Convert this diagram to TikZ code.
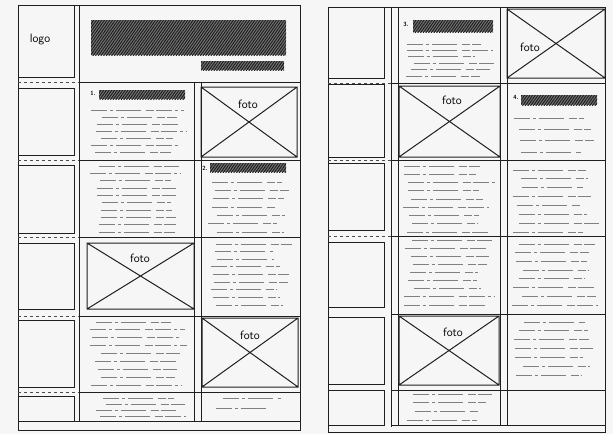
\documentclass[tikz,border=0pt]{standalone}
\usetikzlibrary{patterns.meta}
\begin{document}
\begin{tikzpicture}[x=1pt,y=-1pt,
 frame/.style={draw=black!88,line width=1pt},
 thinline/.style={draw=black!70,line width=0.7pt},
 hatch/.style={fill=black!55,postaction={pattern={Lines[angle=55,distance=2.2pt,line width=0.9pt]},pattern color=black!90}},
 fotoframe/.style={draw=black!88,line width=1pt},
 lbl/.style={font=\sffamily\fontsize{12}{12}\selectfont,inner sep=0pt},
 num/.style={font=\sffamily\bfseries\fontsize{6}{6}\selectfont,inner sep=0pt},
 tl/.style={draw=black!50,line width=0.9pt,dash pattern=on 16pt off 3pt on 3pt off 3pt on 25pt off 5pt on 8pt off 2pt}]
\pgfmathsetseed{3}
\newcommand\fotoX[7]{%
 \draw[fotoframe] (#2,#3) rectangle (#4,#5) (#2,#3) -- (#4,#5) (#2,#5) -- (#4,#3);
 \node[lbl] (#1) at (#6,#7) {foto};}
\newcommand\txt[5]{%
 \foreach \i in {1,...,#5}{
   \pgfmathsetmacro\yy{#3+(\i-1)*(#4-#3)/max(#5-1,1)}
   \pgfmathsetmacro\xa{#1+rnd*12}
   \pgfmathsetmacro\xb{#2-rnd*20}
   \draw[tl] (\xa,\yy) -- (\xb,\yy);
 }}
\fill[gray!7] (0,0) rectangle (613,434);
\useasboundingbox (0,0) rectangle (613,434);

% ---------------- left page ----------------
\draw[frame] (18,5) rectangle (300,430);
\foreach \a/\b in {5/77,88/155,165/233,243/309,320/387,396/421}
  \draw[frame] (18,\a) rectangle (74,\b);
\draw[frame] (79,5) -- (79,421);
\foreach \y in {82,160,237,316,392}
  \draw[frame] (79,\y) -- (300,\y);
\foreach \y in {82,160,237,316,392}
  \draw[thinline,dashed] (18,\y) -- (79,\y);
\draw[frame] (18,421) -- (300,421);
\draw[frame] (194,82) -- (194,421);
\draw[frame] (201,82) -- (201,421);

\node[lbl] (logo) at (40,40) {logo};
\path[hatch] (91,20) rectangle (286,55);
\path[hatch] (201,61) rectangle (284,70);

\node[num] (n1) at (93,93) {1.};
\path[hatch] (99,90) rectangle (185,99);
\txt{90}{190}{110}{152}{7}
\fotoX{f1}{201}{87}{297}{157}{248}{104}

\txt{90}{190}{166}{232}{10}
\node[num] (n2) at (205,168) {2.};
\path[hatch] (210,163) rectangle (286,172);
\txt{206}{293}{182}{232}{7}

\fotoX{f2}{87}{243}{194}{309}{140}{258}
\txt{206}{293}{244}{305}{9}

\txt{90}{190}{322}{385}{9}
\fotoX{f3}{202}{318}{298}{387}{250}{335}

\txt{95}{190}{398}{416}{4}
\txt{215}{285}{398}{408}{2}

% ---------------- right page ----------------
\draw[frame] (328,7) rectangle (605,432);
\foreach \a/\b in {7/78,84/157,163/230,242/307,317/384,390/425}
  \draw[frame] (328,\a) rectangle (384,\b);
\draw[frame] (391,7) -- (391,427);
\draw[frame] (398,7) -- (398,425);
\foreach \y in {83,160,236}
  \draw[frame] (391,\y) -- (605,\y);
\foreach \y in {83,160,236}
  \draw[thinline,dashed] (328,\y) -- (391,\y);
\draw[frame] (391,314) -- (605,314);
\draw[frame] (391,390) -- (605,390);
\draw[frame] (391,425) -- (605,425);
\draw[frame] (500,7) -- (500,425);
\draw[frame] (507,7) -- (507,425);

\node[num] (n3) at (406,24) {3.};
\path[hatch] (413,20) rectangle (493,32);
\txt{403}{495}{44}{76}{6}
\fotoX{f4}{507}{9}{605}{78}{530}{47}

\fotoX{f5}{399}{86}{500}{157}{452}{100}
\node[num] (n4) at (516,97) {4.};
\path[hatch] (521,95) rectangle (597,105);
\txt{512}{600}{118}{152}{4}

\txt{403}{495}{166}{232}{9}
\txt{512}{600}{170}{232}{8}

\txt{403}{495}{240}{305}{9}
\txt{512}{600}{244}{305}{8}

\fotoX{f6}{399}{316}{499}{385}{453}{332}
\txt{512}{600}{322}{375}{7}

\txt{403}{495}{394}{420}{4}
\end{tikzpicture}
\end{document}
